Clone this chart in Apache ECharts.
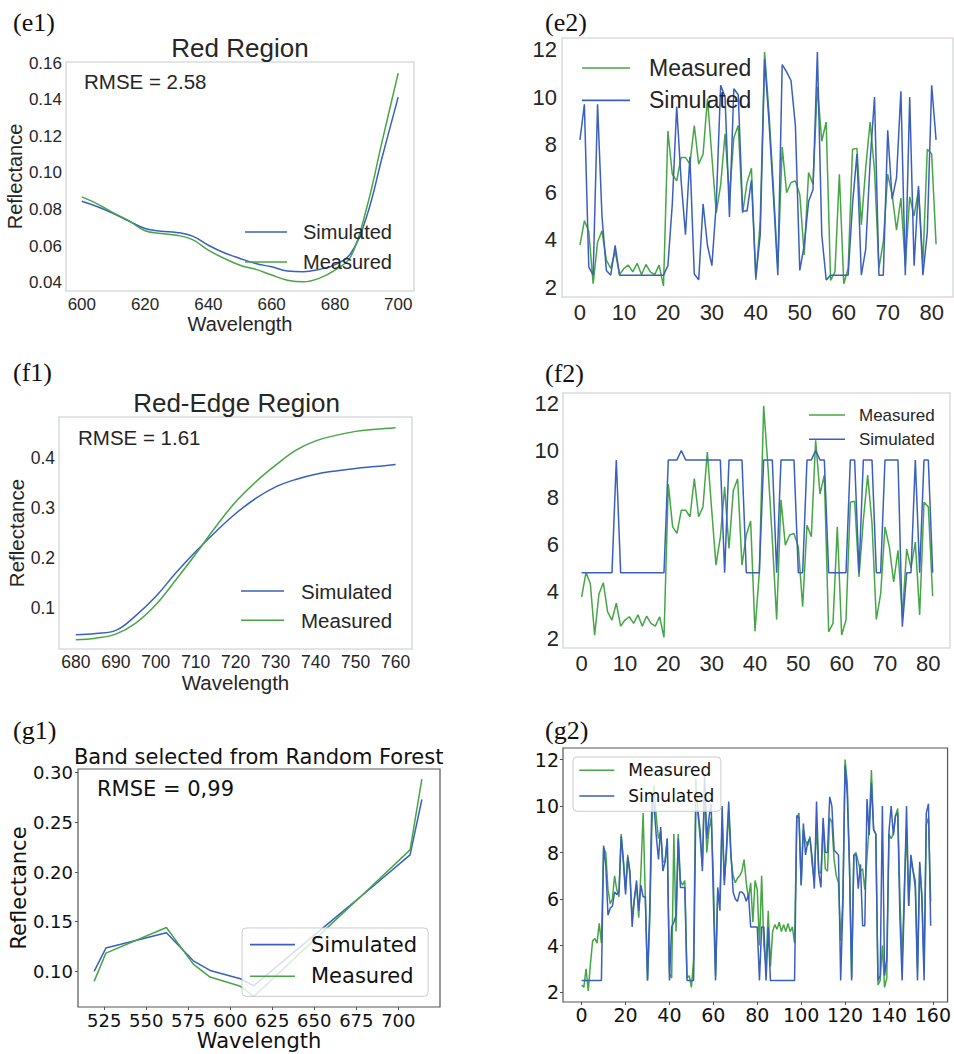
<!DOCTYPE html>
<html><head><meta charset="utf-8">
<script src="https://cdn.jsdelivr.net/npm/echarts@6/dist/echarts.min.js"></script>
<style>html,body{margin:0;padding:0;background:#fff}#c{width:954px;height:1054px}</style>
</head><body><div id="c"></div>
<script>
// ---------- DATA ----------
// (e1) Red Region
const e1Wavelength = [600,605,610,615,620,625,630,635,640,645,650,655,660,665,670,675,680,685,690,695,700];
const e1Simulated  = [0.0845,0.0815,0.0778,0.0736,0.0696,0.0682,0.0675,0.0655,0.0605,0.0564,0.0533,0.0505,0.0487,0.0464,0.0460,0.0473,0.0498,0.0560,0.0760,0.1090,0.1414];
const e1Measured   = [0.0869,0.0830,0.0782,0.0738,0.0684,0.0669,0.0660,0.0636,0.0578,0.0533,0.0496,0.0473,0.0442,0.0414,0.0405,0.0424,0.0469,0.0542,0.0806,0.1178,0.1545];
const e1XTicks = [600,620,640,660,680,700];
const e1YTicks = [0.04,0.06,0.08,0.10,0.12,0.14,0.16];

// (f1) Red-Edge Region
const f1Wavelength = [680,685,690,695,700,705,710,715,720,725,730,735,740,745,750,755,760];
const f1Simulated  = [0.0468,0.0494,0.0554,0.0850,0.1230,0.1700,0.2130,0.2526,0.2890,0.3190,0.3420,0.3570,0.3675,0.3740,0.3790,0.3827,0.3867];
const f1Measured   = [0.0368,0.0400,0.0480,0.0700,0.1065,0.1560,0.2080,0.2625,0.3124,0.3520,0.3854,0.4150,0.4340,0.4450,0.4530,0.4570,0.4600];
const f1XTicks = [680,690,700,710,720,730,740,750,760];
const f1YTicks = [0.1,0.2,0.3,0.4];

// (g1) Band selected from Random Forest
const g1Wavelength = [519,526,562,578,588,606,614,660,680,707,714];
const g1Simulated  = [0.100,0.1235,0.139,0.1107,0.101,0.0926,0.0856,0.1506,0.1787,0.2173,0.273];
const g1Measured   = [0.090,0.1184,0.1442,0.1074,0.0943,0.085,0.0749,0.1476,0.1792,0.2223,0.2936];
const g1XTicks = [525,550,575,600,625,650,675,700];
const g1YTicks = [0.10,0.15,0.20,0.25,0.30];

// (e2) / (f2) sample-wise values (82 samples)
const e2Measured = [
 3.77,4.8,4.34,2.14,3.89,4.37,3.13,2.78,3.5,2.52,
 2.78,2.92,2.64,3.0,2.52,2.95,2.64,2.52,2.92,2.04,
 8.57,6.75,6.47,7.46,7.46,7.18,8.8,7.18,7.6,9.94,
 7.5,5.12,6.3,8.45,5.83,8.3,8.8,5.12,6.4,7.0,
 2.3,4.8,11.9,9.3,6.2,2.8,7.9,5.97,6.4,6.47,
 5.9,3.35,6.82,6.33,10.44,8.14,8.95,2.28,2.64,6.75,
 2.14,2.78,7.8,7.84,4.62,7.03,8.95,6.9,2.8,3.9,
 6.75,5.9,4.4,5.75,2.9,5.8,5.0,6.1,3.0,7.8,
 7.6,3.8];
const e2Simulated = [
 8.2,9.7,2.85,2.5,9.7,5.0,2.7,2.5,3.75,2.5,
 2.5,2.5,2.5,2.5,2.5,2.5,2.5,2.5,2.5,2.5,
 2.9,5.5,9.6,6.5,4.2,7.5,2.55,2.3,5.5,3.75,
 2.9,5.5,10.5,10.0,4.95,10.35,10.1,5.2,5.2,6.5,
 2.4,4.2,11.6,8.95,5.85,2.5,11.37,11.06,10.7,8.8,
 2.7,3.75,5.6,6.1,11.9,4.2,2.3,2.5,2.5,2.5,
 2.5,2.5,5.5,7.6,2.5,3.6,7.3,10.0,2.5,2.5,
 8.6,5.7,6.6,10.25,2.5,10.0,2.9,6.25,2.5,4.3,
 10.5,8.2];
const f2Measured = e2Measured.slice();
const f2Simulated = [
 4.8,4.8,4.8,4.8,4.8,4.8,4.8,4.8,9.6,4.8,
 4.8,4.8,4.8,4.8,4.8,4.8,4.8,4.8,4.8,4.8,
 9.6,9.6,9.6,10.0,9.6,9.6,9.6,9.6,9.6,9.6,
 9.6,9.6,9.6,4.8,9.6,9.6,9.6,9.6,4.8,4.8,
 4.8,4.8,9.6,9.6,9.6,4.8,9.6,9.6,9.6,9.6,
 4.8,4.8,9.6,9.6,10.0,9.6,9.6,4.8,4.8,4.8,
 4.8,4.8,9.6,9.6,4.8,9.6,9.6,9.6,4.8,4.8,
 9.6,9.6,9.6,9.6,2.5,4.8,4.8,9.6,4.8,9.6,
 9.6,4.8];
const e2XTicks = [0,10,20,30,40,50,60,70,80];
const e2YTicks = [2,4,6,8,10,12];

// (g2) 160 samples
const g2Measured = [
 2.3,2.2,3.0,2.05,3.2,4.2,4.3,4.1,4.95,4.1,
 8.2,8.0,6.4,5.8,6.0,7.0,6.4,6.1,8.8,7.7,
 6.4,7.9,7.0,5.2,6.0,6.6,5.2,7.2,9.7,6.1,
 2.5,5.0,9.2,10.9,9.5,8.6,8.9,7.6,7.6,8.6,
 2.8,2.6,8.8,4.6,8.8,6.8,6.6,6.8,2.6,2.7,
 2.2,3.4,11.2,9.6,8.6,7.4,10.8,8.0,9.0,9.5,
 7.0,2.7,6.3,6.0,9.3,6.8,8.0,9.8,7.8,7.0,
 6.7,6.9,7.0,7.2,7.7,6.7,6.0,6.7,5.0,6.8,
 6.4,4.0,7.0,4.0,3.1,5.5,3.1,4.6,4.9,4.7,
 5.0,4.6,4.9,4.6,4.95,4.6,4.8,4.1,9.5,9.7,
 6.6,9.0,8.5,8.3,8.7,7.5,6.8,9.2,7.2,7.1,
 9.25,7.3,7.2,9.5,9.3,7.7,7.0,6.7,4.2,6.0,
 12.0,11.0,7.5,2.6,7.9,8.0,7.6,7.2,7.3,6.4,
 7.8,9.2,11.55,9.0,8.8,2.3,2.5,4.0,2.2,2.6,
 8.8,8.6,8.8,9.6,9.9,6.0,3.4,6.5,9.0,5.7,
 7.7,7.2,6.8,3.0,7.5,6.2,3.0,9.2,9.5,5.9];
const g2Simulated = [
 2.5,2.5,2.5,2.5,2.5,2.5,2.5,2.5,2.5,2.5,
 8.3,7.4,5.3,5.6,5.7,6.3,6.2,6.3,8.7,7.6,
 6.2,7.8,7.2,4.8,6.0,6.8,5.5,6.6,6.1,6.1,
 2.5,5.5,10.3,10.0,8.7,7.7,9.1,7.2,7.6,8.6,
 2.5,4.8,5.0,5.3,8.6,6.5,6.5,6.5,2.5,2.5,
 2.5,2.5,9.8,9.8,8.9,7.2,11.3,8.6,9.5,10.1,
 6.0,2.5,6.5,5.5,10.0,6.6,8.3,10.2,8.0,6.3,
 6.0,5.9,6.3,6.3,6.2,5.9,6.2,4.8,4.8,4.8,
 4.8,2.5,4.8,4.8,2.5,4.8,2.5,2.5,2.5,2.5,
 2.5,2.5,2.5,2.5,2.5,2.5,2.5,2.5,9.6,9.5,
 6.6,9.25,7.9,8.45,8.6,7.8,6.45,10.2,7.15,6.5,
 9.5,8.0,8.0,10.4,10.0,8.1,8.0,7.9,2.5,5.7,
 11.75,10.5,7.45,2.5,7.9,7.9,6.45,7.5,4.85,4.85,
 10.3,8.75,11.0,9.0,8.8,2.5,2.7,10.0,2.7,3.4,
 8.9,10.0,8.75,9.6,9.7,5.15,2.5,6.0,10.0,5.7,
 7.9,7.2,6.5,2.5,7.6,6.0,2.5,9.7,10.1,4.85];
const g2XTicks = [0,20,40,60,80,100,120,140,160];
const g2YTicks = [2,4,6,8,10,12];

// ---------- STYLE ----------
const BLUE = '#3a5fbf', GREEN = '#46a646';
const SANS = 'Liberation Sans', DV = 'DejaVu Sans';
const TXT = '#262626';

const chart = echarts.init(document.getElementById('c'), null, {renderer: 'svg'});

function grid(l, t, w, h, light) {
  return {left: l, top: t, width: w, height: h, show: true, containLabel: false,
    backgroundColor: '#fff',
    borderColor: light ? '#d8dddd' : '#555', borderWidth: light ? 1.5 : 1.2};
}
function axis(gi, min, max, ticks, o) {
  return {
    type: 'value', gridIndex: gi, min: min, max: max,
    axisLine: {show: false, onZero: false}, splitLine: {show: false},
    axisTick: {show: !!o.tick, length: 3, customValues: ticks, lineStyle: {color: '#555'}},
    axisLabel: {customValues: ticks, margin: o.margin, fontSize: o.fs, fontFamily: o.ff,
      color: o.color, formatter: o.fmt || (v => String(v))},
    name: o.name || '', nameLocation: 'middle', nameGap: o.gap || 0,
    nameTextStyle: {fontSize: o.nfs, fontFamily: o.ff, color: o.color}
  };
}
function line(name, xs, ys, gi, color, smooth) {
  return {type: 'line', name: name, xAxisIndex: gi, yAxisIndex: gi,
    data: xs.map((x, i) => [x, ys[i]]), symbol: 'none', showSymbol: false,
    smooth: smooth || false, lineStyle: {color: color, width: 1.5}, itemStyle: {color: color},
    animation: false, z: 2};
}
const idx = n => Array.from({length: n}, (_, i) => i);
function txt(x, y, s, font, fill, align) {
  return {type: 'text', x: x, y: y, z: 10,
    style: {text: s, font: font, fill: fill, align: align || 'left', verticalAlign: 'middle',
      textAlign: align || 'left', textVerticalAlign: 'middle'}};
}
function legend(data, left, top, o) {
  return Object.assign({
    data: data, orient: 'vertical', left: left, top: top, padding: 0,
    icon: 'rect', itemWidth: o.iw, itemHeight: 1.6, itemGap: o.gap, selectedMode: false,
    textStyle: {fontSize: o.fs, fontFamily: o.ff, color: o.color || TXT, lineHeight: o.lh,
      padding: [0, 0, 0, o.tp]}
  }, o.extra || {});
}

const option = {
  backgroundColor: '#fff',
  animation: false,
  grid: [
    grid(66, 62, 348, 229, true),    // e1
    grid(562, 38, 391, 259, true),   // e2
    grid(59, 417, 353, 232, true),   // f1
    grid(563, 393, 387, 255, true),  // f2
    grid(78, 769, 362, 238, false),  // g1
    grid(563, 748, 385, 254, false)  // g2
  ],
  xAxis: [
    axis(0, 595, 705, e1XTicks, {margin: 5, fs: 17, ff: SANS, color: TXT, name: 'Wavelength', gap: 22, nfs: 20}),
    axis(1, -4.09, 84.85, e2XTicks, {margin: 4, fs: 22, ff: SANS, color: TXT}),
    axis(2, 675.8, 764.1, f1XTicks, {margin: 4, fs: 17.5, ff: SANS, color: TXT, name: 'Wavelength', gap: 23, nfs: 20.5}),
    axis(3, -4.3, 85.0, e2XTicks, {margin: 4, fs: 22, ff: SANS, color: TXT}),
    axis(4, 509.4, 724.8, g1XTicks, {margin: 4, fs: 18, ff: DV, color: '#111', tick: true, name: 'Wavelength', gap: 23, nfs: 21}),
    axis(5, -8.5, 166.7, g2XTicks, {margin: 3, fs: 19, ff: DV, color: '#111', tick: true})
  ],
  yAxis: [
    axis(0, 0.0355, 0.1606, e1YTicks, {margin: 4, fs: 17, ff: SANS, color: TXT, fmt: v => v.toFixed(2), name: 'Reflectance', gap: 40, nfs: 20}),
    axis(1, 1.58, 12.49, e2YTicks, {margin: 5, fs: 22, ff: SANS, color: TXT}),
    axis(2, 0.0183, 0.4817, f1YTicks, {margin: 4, fs: 17.5, ff: SANS, color: TXT, fmt: v => v.toFixed(1), name: 'Reflectance', gap: 32, nfs: 20.5}),
    axis(3, 1.59, 12.45, e2YTicks, {margin: 4, fs: 22, ff: SANS, color: TXT}),
    axis(4, 0.0642, 0.3037, g1YTicks, {margin: 5, fs: 18, ff: DV, color: '#111', tick: true, fmt: v => v.toFixed(2), name: 'Reflectance', gap: 47, nfs: 21}),
    axis(5, 1.57, 12.5, g2YTicks, {margin: 4, fs: 19, ff: DV, color: '#111', tick: true})
  ],
  legend: [
    legend(['Simulated', 'Measured'], 245, 221, {iw: 42, gap: 8, fs: 20, ff: SANS, lh: 22, tp: 11}),
    legend(['Measured', 'Simulated'], 582, 55, {iw: 48, gap: 6.4, fs: 23, ff: SANS, lh: 26, tp: 14}),
    legend(['Simulated', 'Measured'], 241, 580, {iw: 43, gap: 7.3, fs: 20.5, ff: SANS, lh: 22, tp: 12}),
    legend(['Measured', 'Simulated'], 809, 405, {iw: 36, gap: 4.3, fs: 17, ff: SANS, lh: 20, tp: 9}),
    legend(['Simulated', 'Measured'], 242, 928, {iw: 45, gap: 7.7, fs: 21, ff: DV, lh: 24, tp: 11, color: '#111',
      extra: {padding: [4.6, 11, 8, 8], backgroundColor: 'rgba(255,255,255,0.8)', borderColor: '#cccccc', borderWidth: 1, borderRadius: 4}}),
    legend(['Measured', 'Simulated'], 573, 757, {iw: 35, gap: 5.7, fs: 17, ff: DV, lh: 20, tp: 9, color: '#111',
      extra: {padding: [3.3, 6.7, 5.3, 6.3], backgroundColor: 'rgba(255,255,255,0.8)', borderColor: '#cccccc', borderWidth: 1, borderRadius: 4}})
  ],
  graphic: [
    txt(13, 22, '(e1)', '26px "Liberation Serif"', '#111'),
    txt(545, 22, '(e2)', '26px "Liberation Serif"', '#111'),
    txt(13, 372, '(f1)', '26px "Liberation Serif"', '#111'),
    txt(545, 373, '(f2)', '26px "Liberation Serif"', '#111'),
    txt(13, 730, '(g1)', '26px "Liberation Serif"', '#111'),
    txt(545, 730, '(g2)', '26px "Liberation Serif"', '#111'),
    txt(240, 48, 'Red Region', '26px "Liberation Sans"', TXT, 'center'),
    txt(84, 81, 'RMSE = 2.58', '20.5px "Liberation Sans"', TXT),
    txt(236.5, 403, 'Red-Edge Region', '26px "Liberation Sans"', TXT, 'center'),
    txt(78, 437, 'RMSE = 1.61', '20.5px "Liberation Sans"', TXT),
    txt(258.7, 757, 'Band selected from Random Forest', '21px "DejaVu Sans"', '#111', 'center'),
    txt(97, 789, 'RMSE = 0,99', '21px "DejaVu Sans"', '#111')
  ],
  series: [
    line('Simulated', e1Wavelength, e1Simulated, 0, BLUE, 0.4),
    line('Measured', e1Wavelength, e1Measured, 0, GREEN, 0.4),
    line('Measured', idx(e2Measured.length), e2Measured, 1, GREEN),
    line('Simulated', idx(e2Simulated.length), e2Simulated, 1, BLUE),
    line('Simulated', f1Wavelength, f1Simulated, 2, BLUE, 0.4),
    line('Measured', f1Wavelength, f1Measured, 2, GREEN, 0.4),
    line('Measured', idx(f2Measured.length), f2Measured, 3, GREEN),
    line('Simulated', idx(f2Simulated.length), f2Simulated, 3, BLUE),
    line('Simulated', g1Wavelength, g1Simulated, 4, BLUE),
    line('Measured', g1Wavelength, g1Measured, 4, GREEN),
    line('Measured', idx(g2Measured.length), g2Measured, 5, GREEN),
    line('Simulated', idx(g2Simulated.length), g2Simulated, 5, BLUE)
  ]
};
chart.setOption(option);
</script>
</body></html>
